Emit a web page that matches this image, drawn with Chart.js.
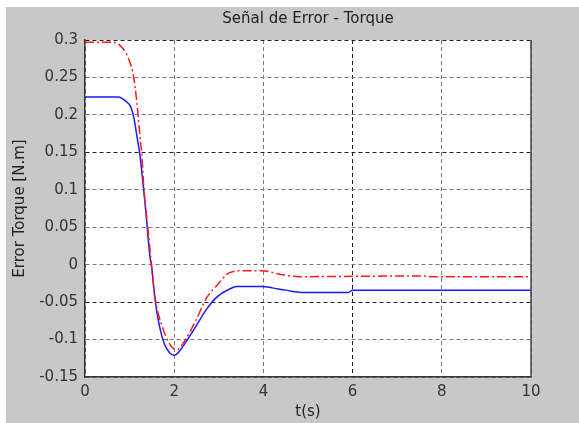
<!DOCTYPE html>
<html>
<head>
<meta charset="utf-8">
<script src="https://cdn.jsdelivr.net/npm/chart.js@4"></script>
<style>
  html, body { margin: 0; padding: 0; background: #ffffff; }
  #c { display: block; }
</style>
</head>
<body>
<canvas id="c" width="579" height="423"></canvas>
<script>
// ---- data ----
const titleText = "Señal de Error - Torque";
const xLabel = "t(s)";
const yLabel = "Error Torque [N.m]";

const xTicks = [0, 2, 4, 6, 8, 10];
const xTickLabels = ["0", "2", "4", "6", "8", "10"];
const yTicks = [-0.15, -0.1, -0.05, 0, 0.05, 0.1, 0.15, 0.2, 0.25, 0.3];
const yTickLabels = ["-0.15", "-0.1", "-0.05", "0", "0.05", "0.1", "0.15", "0.2", "0.25", "0.3"];

const blueT = [0, 0.75, 0.9, 1.03, 1.1, 1.16, 1.23, 1.32, 1.37, 1.45, 1.5, 1.57, 1.66, 1.78, 1.9, 2.0, 2.1, 2.23, 2.48, 2.73, 2.98, 3.23, 3.4, 3.97, 4.2, 4.5, 4.9, 5.9, 6.0, 10];
const blueY = [0.224, 0.224, 0.219, 0.21, 0.195, 0.173, 0.147, 0.098, 0.067, 0.014, -0.006, -0.046, -0.079, -0.106, -0.118, -0.121, -0.117, -0.106, -0.083, -0.059, -0.042, -0.033, -0.029, -0.029, -0.031, -0.034, -0.037, -0.037, -0.034, -0.034];

const redT = [0, 0.62, 0.83, 0.99, 1.09, 1.16, 1.23, 1.28, 1.32, 1.41, 1.49, 1.57, 1.74, 1.9, 2.05, 2.23, 2.48, 2.73, 2.98, 3.23, 3.56, 3.97, 4.39, 4.8, 7.6, 7.7, 10];
const redY = [0.297, 0.297, 0.29, 0.273, 0.251, 0.218, 0.173, 0.142, 0.102, 0.049, 0.0, -0.044, -0.084, -0.106, -0.114, -0.102, -0.075, -0.044, -0.026, -0.011, -0.008, -0.008, -0.013, -0.016, -0.015, -0.016, -0.016];

const darkYGrid = [0.3, 0.15, -0.05];
const darkXGrid = [6];

// ---- helpers ----
const toPts = (xs, ys) => xs.map((x, i) => ({ x: x, y: ys[i] }));
const FONT = "'DejaVu Sans', Verdana, sans-serif";
const near = (a, b) => Math.abs(a - b) < 1e-6;

const backgroundPlugin = {
  id: 'bg',
  beforeDraw(chart) {
    const { ctx, chartArea: a, width, height } = chart;
    ctx.save();
    ctx.fillStyle = '#ffffff';
    ctx.fillRect(0, 0, width, height);
    ctx.fillStyle = '#c8c8c8';
    ctx.fillRect(6, 7, width - 6, height - 7);
    ctx.fillStyle = '#ffffff';
    ctx.fillRect(a.left, a.top, a.right - a.left, a.bottom - a.top);
    ctx.restore();
  },
  afterDraw(chart) {
    const { ctx, chartArea: a } = chart;
    ctx.save();
    ctx.strokeStyle = '#444444';
    ctx.lineWidth = 1.5;
    ctx.beginPath();
    ctx.moveTo(a.right, a.top);
    ctx.lineTo(a.right, a.bottom);
    ctx.stroke();
    // chart title, centred over the axes like MATLAB
    ctx.fillStyle = '#222222';
    ctx.font = '15px ' + FONT;
    ctx.textAlign = 'center';
    ctx.textBaseline = 'middle';
    ctx.fillText(titleText, (a.left + a.right) / 2, 19.5);
    ctx.restore();
  }
};

new Chart(document.getElementById('c'), {
  type: 'line',
  data: {
    datasets: [
      {
        label: 'rojo',
        data: toPts(redT, redY),
        borderColor: '#ff1a1a',
        borderWidth: 1.5,
        borderDash: [9, 3, 2, 3],
        pointRadius: 0,
        cubicInterpolationMode: 'monotone',
        fill: false
      },
      {
        label: 'azul',
        data: toPts(blueT, blueY),
        borderColor: '#1a1aff',
        borderWidth: 1.5,
        pointRadius: 0,
        cubicInterpolationMode: 'monotone',
        fill: false
      }
    ]
  },
  plugins: [backgroundPlugin],
  options: {
    responsive: false,
    animation: false,
    devicePixelRatio: 1,
    layout: { padding: { left: 0, right: 48, top: 40, bottom: 0 } },
    plugins: {
      legend: { display: false },
      tooltip: { enabled: false },
      title: { display: false }
    },
    scales: {
      x: {
        type: 'linear',
        min: 0,
        max: 10,
        afterBuildTicks(scale) { scale.ticks = xTicks.map(v => ({ value: v })); },
        afterFit(scale) { scale.height = 46; },
        ticks: {
          color: '#333333',
          font: { family: FONT, size: 15 },
          padding: 6,
          maxRotation: 0,
          callback: (v) => { const i = xTicks.findIndex(t => near(t, v)); return i >= 0 ? xTickLabels[i] : ''; }
        },
        grid: {
          drawTicks: false,
          lineWidth: 1,
          color: (c) => (c.tick && darkXGrid.some(d => near(d, c.tick.value))) ? '#222222' : '#7a7a7a'
        },
        border: { display: true, color: '#333333', width: 1.5, dash: [4, 3] },
        title: {
          display: true,
          text: xLabel,
          color: '#222222',
          font: { family: FONT, size: 15 },
          padding: { top: 0, bottom: 2 }
        }
      },
      y: {
        type: 'linear',
        min: -0.15,
        max: 0.3,
        afterBuildTicks(scale) { scale.ticks = yTicks.map(v => ({ value: v })); },
        afterFit(scale) { scale.width = 85; },
        ticks: {
          color: '#333333',
          font: { family: FONT, size: 15 },
          padding: 7,
          callback: (v) => { const i = yTicks.findIndex(t => near(t, v)); return i >= 0 ? yTickLabels[i] : ''; }
        },
        grid: {
          drawTicks: false,
          lineWidth: 1,
          color: (c) => (c.tick && darkYGrid.some(d => near(d, c.tick.value))) ? '#222222' : '#7a7a7a'
        },
        border: { display: true, color: '#333333', width: 1.5, dash: [4, 3] },
        title: {
          display: true,
          text: yLabel,
          color: '#222222',
          font: { family: FONT, size: 15 },
          padding: { top: 11, bottom: 0 }
        }
      }
    }
  }
});
</script>
</body>
</html>
